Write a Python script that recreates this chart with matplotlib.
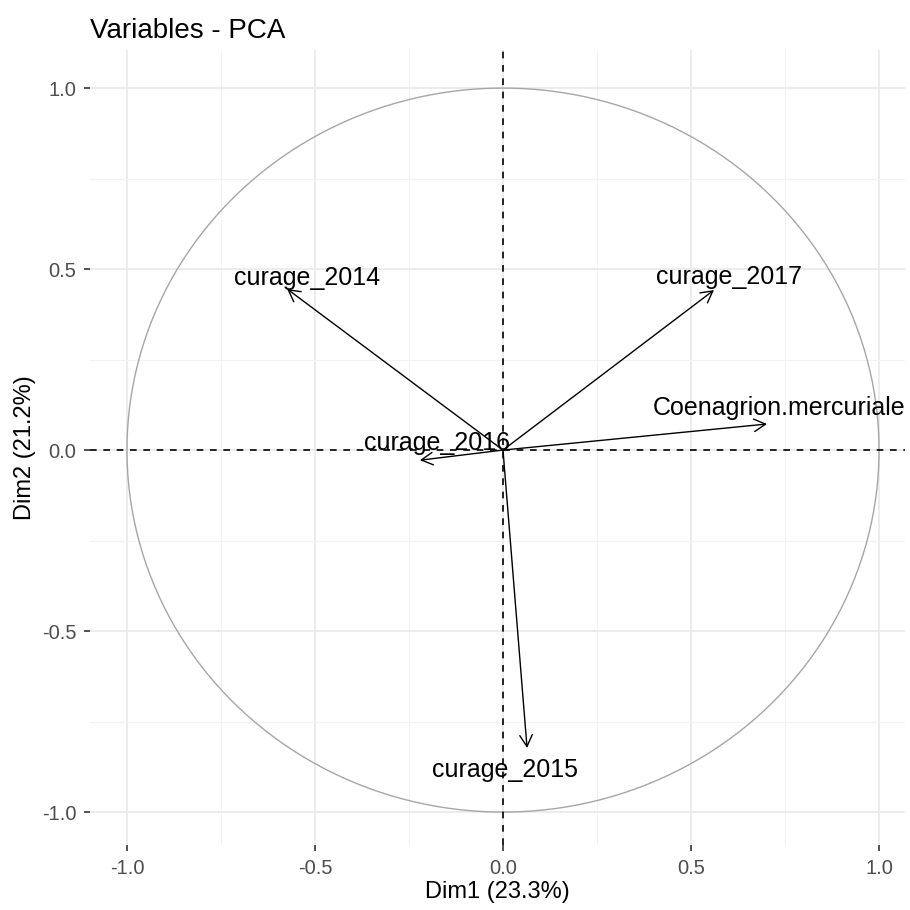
import matplotlib.pyplot as plt
import numpy as np

plt.rcParams['font.family'] = ['Liberation Sans', 'DejaVu Sans']

# Variable coordinates on the first two dimensions
variables = ["curage_2014", "curage_2015", "curage_2016", "curage_2017", "Coenagrion.mercuriale"]
dim1 = [-0.574, 0.064, -0.221, 0.561, 0.702]
dim2 = [0.445, -0.823, -0.028, 0.442, 0.072]

# where each name sits relative to its arrow tip
label_x = [-0.520, 0.005, -0.175, 0.600, 0.734]
label_y = [0.475, -0.884, 0.019, 0.478, 0.116]

dim1_pct = 23.3
dim2_pct = 21.2

major = [-1.0, -0.5, 0.0, 0.5, 1.0]
minor = [-0.75, -0.25, 0.25, 0.75]

fig = plt.figure(figsize=(9.1, 9.1), dpi=100)
ax = fig.add_axes([0.099, 0.0714, 0.8955, 0.8736])

ax.set_xlim(-1.098, 1.069)
ax.set_ylim(-1.091, 1.105)

for s in ax.spines.values():
    s.set_visible(False)

ax.set_xticks(major)
ax.set_yticks(major)
ax.set_xticks(minor, minor=True)
ax.set_yticks(minor, minor=True)
ax.grid(True, which='major', color='#EBEBEB', linewidth=1.3)
ax.grid(True, which='minor', color='#F2F2F2', linewidth=0.8)
ax.set_axisbelow(True)
ax.tick_params(which='major', length=4, width=1.2, color='#333333',
               labelsize=14.5, labelcolor='#4D4D4D', pad=6)
ax.tick_params(which='minor', length=0)
ax.set_xticklabels([f"{v:.1f}" for v in major])
ax.set_yticklabels([f"{v:.1f}" for v in major])

# correlation circle
t = np.linspace(0, 2 * np.pi, 400)
ax.plot(np.cos(t), np.sin(t), color='#A6A6A6', linewidth=1.0, zorder=2)

ax.axhline(0, color='black', linestyle=(0, (4, 4)), linewidth=1.2, zorder=3)
ax.axvline(0, color='black', linestyle=(0, (4, 4)), linewidth=1.2, zorder=3)

for x, y in zip(dim1, dim2):
    ax.annotate("", xy=(x, y), xytext=(0, 0),
                arrowprops=dict(arrowstyle='->,head_length=0.55,head_width=0.3',
                                color='black', linewidth=1.0,
                                shrinkA=0, shrinkB=0, mutation_scale=15),
                zorder=4)

for name, x, y in zip(variables, label_x, label_y):
    ax.text(x, y, name, ha='center', va='center', fontsize=18, color='black', zorder=5)

ax.set_xlabel(f"Dim1 ({dim1_pct}%)", fontsize=17, color='black', labelpad=2)
ax.set_ylabel(f"Dim2 ({dim2_pct}%)", fontsize=17, color='black', labelpad=4)
fig.text(0.099, 0.966, "Variables - PCA", fontsize=20, ha='left', va='center')

fig.savefig('out.png', dpi=100)
